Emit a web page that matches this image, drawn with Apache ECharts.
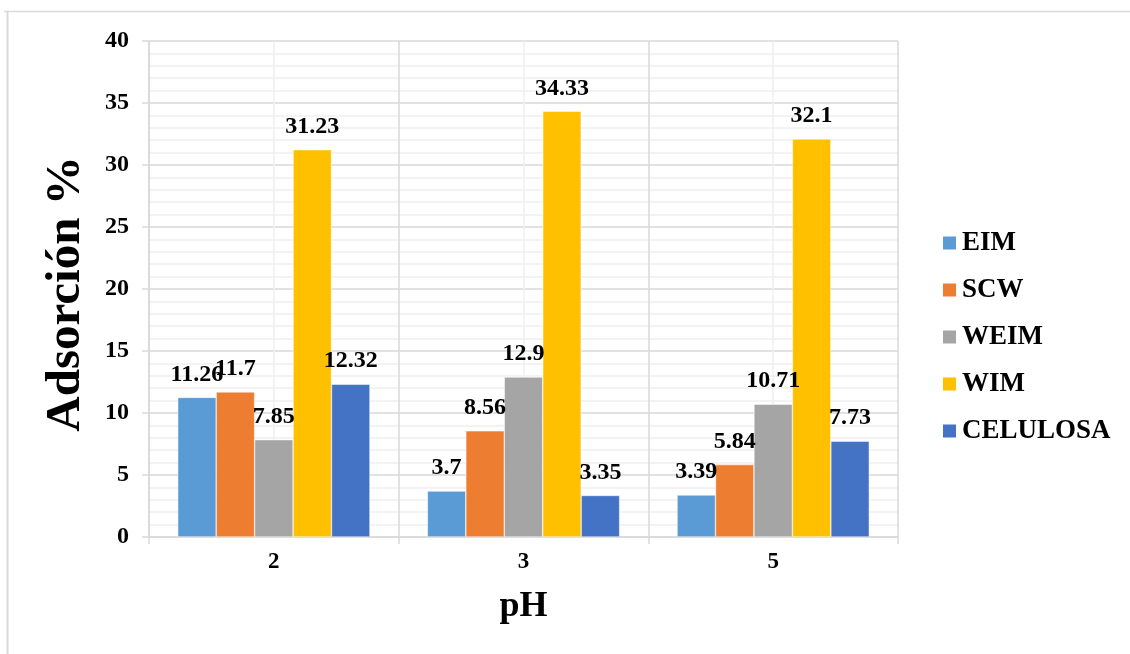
<!DOCTYPE html>
<html>
<head>
<meta charset="utf-8">
<style>
  html, body { margin: 0; padding: 0; background: #ffffff; }
  #chart { width: 1130px; height: 654px; }
</style>
<script src="https://cdn.jsdelivr.net/npm/echarts@6/dist/echarts.min.js"></script>
</head>
<body>
<div id="chart"></div>
<script>
// pH values tested
const categories = ['2', '3', '5'];

// Adsorption (%) per material at each pH
const eim      = [11.26, 3.7, 3.39];
const scw      = [11.7, 8.56, 5.84];
const weim     = [7.85, 12.9, 10.71];
const wim      = [31.23, 34.33, 32.1];
const celulosa = [12.32, 3.35, 7.73];

const seriesNames = ['EIM', 'SCW', 'WEIM', 'WIM', 'CELULOSA'];
const seriesData = [eim, scw, weim, wim, celulosa];
const seriesColors = ['#5B9BD5', '#ED7D31', '#A5A5A5', '#FFC000', '#4472C4'];

const serif = '"Liberation Serif", "Times New Roman", serif';
const gridColor = '#d9d9d9';
const minorColor = '#efefef';

const chart = echarts.init(document.getElementById('chart'));

chart.setOption({
  backgroundColor: '#ffffff',
  animation: false,
  textStyle: { fontFamily: serif },
  grid: { left: 149, right: 232, top: 41, bottom: 117, containLabel: false },
  legend: {
    orient: 'vertical',
    left: 941,
    top: 228,
    padding: 0,
    itemWidth: 15,
    itemHeight: 15,
    itemGap: 17,
    icon: 'rect',
    textStyle: {
      fontFamily: serif,
      fontWeight: 'bold',
      fontSize: 27,
      color: '#000000',
      lineHeight: 30
    },
    data: seriesNames
  },
  xAxis: [
    {
      type: 'category',
      data: categories,
      boundaryGap: true,
      name: 'pH',
      nameLocation: 'middle',
      nameGap: 52,
      nameTextStyle: { fontFamily: serif, fontWeight: 'bold', fontSize: 36, color: '#000' },
      axisLine: { show: true, lineStyle: { color: gridColor, width: 1.5 } },
      axisTick: { show: true, length: 7, lineStyle: { color: gridColor, width: 1.5 } },
      axisLabel: { margin: 14, fontFamily: serif, fontWeight: 'bold', fontSize: 23, color: '#000' },
      splitLine: { show: false }
    },
    {
      // grid-only axis: lines at category edges and lighter lines at category centres
      type: 'value',
      min: 0,
      max: 6,
      interval: 1,
      position: 'bottom',
      axisLine: { show: false },
      axisTick: { show: false },
      axisLabel: { show: false },
      splitLine: { show: true, lineStyle: { color: [gridColor, minorColor], width: 1.5 } }
    }
  ],
  yAxis: {
    type: 'value',
    min: 0,
    max: 40,
    interval: 5,
    name: 'Adsorción %',
    nameLocation: 'middle',
    nameGap: 58,
    nameTextStyle: { fontFamily: serif, fontWeight: 'bold', fontSize: 49, color: '#000', padding: [0, 10, 0, 0] },
    axisLine: { show: true, lineStyle: { color: gridColor, width: 1.5 } },
    axisTick: { show: true, length: 7, lineStyle: { color: gridColor, width: 1.5 } },
    axisLabel: { margin: 20, fontFamily: serif, fontWeight: 'bold', fontSize: 24, color: '#000' },
    splitLine: { show: true, lineStyle: { color: gridColor, width: 1.5 } },
    minorTick: { show: false, splitNumber: 5 },
    minorSplitLine: { show: true, lineStyle: { color: minorColor, width: 1.5 } }
  },
  graphic: [
    { type: 'line', silent: true, shape: { x1: 4, y1: 11.5, x2: 1130, y2: 11.5 }, style: { stroke: '#d9d9d9', lineWidth: 1.5 } },
    { type: 'line', silent: true, shape: { x1: 7.5, y1: 11, x2: 7.5, y2: 654 }, style: { stroke: '#d9d9d9', lineWidth: 2 } }
  ],
  series: seriesNames.map((name, i) => ({
    name: name,
    type: 'bar',
    xAxisIndex: 0,
    data: seriesData[i],
    barGap: '0%',
    barCategoryGap: '23%',
    itemStyle: { color: seriesColors[i], borderColor: '#ffffff', borderWidth: 0.5 },
    label: {
      show: true,
      position: 'top',
      distance: 11,
      fontFamily: serif,
      fontWeight: 'bold',
      fontSize: 24,
      color: '#000000'
    }
  }))
});
</script>
</body>
</html>
